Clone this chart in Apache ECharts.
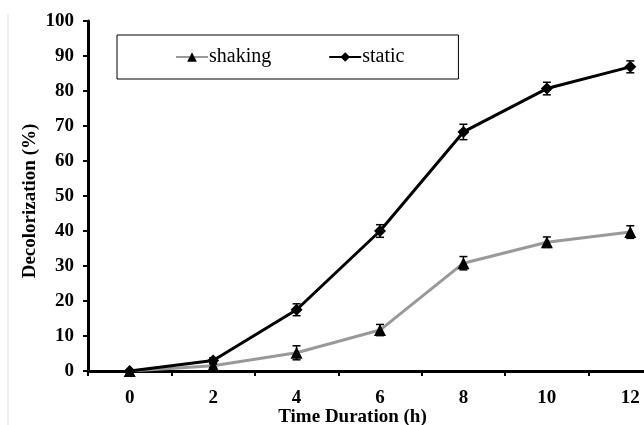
<!DOCTYPE html>
<html>
<head>
<meta charset="utf-8">
<script src="https://cdn.jsdelivr.net/npm/echarts@6/dist/echarts.min.js"></script>
<style>
  html,body{margin:0;padding:0;background:#fff;}
  #chart{width:644px;height:425px;}
</style>
</head>
<body>
<div id="chart"></div>
<script>
// time points (h)
var hours = ['0', '2', '4', '6', '8', '10', '12'];
// decolorization (%)
var shaking = [0, 1.5, 5.2, 11.7, 30.8, 36.8, 39.7];
var staticVals = [0, 3.0, 17.5, 40.0, 68.3, 80.7, 86.9];
// error bar half widths
var shakingErr = [0, 0.5, 2.0, 1.6, 1.9, 1.5, 1.8];
var staticErr = [0, 0.8, 1.7, 1.8, 2.2, 1.8, 1.7];

var serif = '"Liberation Serif", "Times New Roman", serif';

function errData(vals, errs) {
  return vals.map(function (v, i) { return [i, v - errs[i], v + errs[i]]; });
}

function errRender(params, api) {
  var lo = api.coord([api.value(0), api.value(1)]);
  var hi = api.coord([api.value(0), api.value(2)]);
  var w = 4;
  var st = { stroke: '#000', lineWidth: 1.5 };
  return {
    type: 'group',
    children: [
      { type: 'line', shape: { x1: hi[0], y1: hi[1], x2: lo[0], y2: lo[1] }, style: st },
      { type: 'line', shape: { x1: hi[0] - w, y1: hi[1], x2: hi[0] + w, y2: hi[1] }, style: st },
      { type: 'line', shape: { x1: lo[0] - w, y1: lo[1], x2: lo[0] + w, y2: lo[1] }, style: st }
    ]
  };
}

var myChart = echarts.init(document.getElementById('chart'));
var option = {
  animation: false,
  textStyle: { fontFamily: serif },
  // plot runs past the right edge like the original crop
  grid: { left: 88, top: 21, width: 584, height: 350, outerBoundsMode: 'none', containLabel: false },
  legend: {
    left: 117, top: 35,
    padding: [12, 54, 12, 58],
    itemGap: 57,
    itemWidth: 32, itemHeight: 12,
    backgroundColor: '#fff',
    borderColor: '#000', borderWidth: 1, borderRadius: 0,
    textStyle: { fontFamily: serif, fontSize: 20, color: '#000', padding: [0, 0, 0, -4] },
    data: ['shaking', 'static']
  },
  graphic: [{
    type: 'line', silent: true,
    shape: { x1: 8, y1: 14, x2: 8, y2: 425 },
    style: { stroke: '#ddd', lineWidth: 1 }
  }],
  xAxis: {
    type: 'category',
    data: hours,
    boundaryGap: true,
    name: 'Time Duration (h)',
    nameLocation: 'middle',
    nameGap: 37,
    nameMoveOverlap: false,
    nameTextStyle: { fontFamily: serif, fontWeight: 'bold', fontSize: 19, color: '#000', padding: [0, 55, 0, 0] },
    axisLine: { lineStyle: { color: '#000', width: 3 } },
    axisTick: { show: true, length: 5, lineStyle: { color: '#000', width: 2 } },
    axisLabel: { fontFamily: serif, fontWeight: 'bold', fontSize: 19, color: '#000', margin: 18 },
    splitLine: { show: false }
  },
  yAxis: {
    type: 'value',
    min: 0, max: 100, interval: 10,
    name: 'Decolorization (%)',
    nameLocation: 'middle',
    nameGap: 48,
    nameMoveOverlap: false,
    nameTextStyle: { fontFamily: serif, fontWeight: 'bold', fontSize: 19, color: '#000', padding: [0, 10, 0, 0] },
    axisLine: { show: true, lineStyle: { color: '#000', width: 3 } },
    axisTick: { show: true, length: 5, lineStyle: { color: '#000', width: 2 } },
    axisLabel: { fontFamily: serif, fontWeight: 'bold', fontSize: 19, color: '#000', margin: 14 },
    splitLine: { show: false }
  },
  series: [
    {
      name: 'shaking', type: 'line', data: shaking,
      symbol: 'triangle', symbolSize: 12,
      lineStyle: { color: '#999', width: 3 },
      itemStyle: { color: '#000' },
      z: 3
    },
    {
      name: 'static', type: 'line', data: staticVals,
      symbol: 'diamond', symbolSize: 12,
      lineStyle: { color: '#000', width: 3 },
      itemStyle: { color: '#000' },
      z: 4
    },
    {
      type: 'custom', name: 'shakingErr', data: errData(shaking, shakingErr),
      renderItem: errRender, z: 5, silent: true,
      encode: { x: 0, y: [1, 2] }
    },
    {
      type: 'custom', name: 'staticErr', data: errData(staticVals, staticErr),
      renderItem: errRender, z: 5, silent: true,
      encode: { x: 0, y: [1, 2] }
    }
  ]
};
myChart.setOption(option);
window.addEventListener('resize', function () { myChart.resize(); }, false);
</script>
</body>
</html>
